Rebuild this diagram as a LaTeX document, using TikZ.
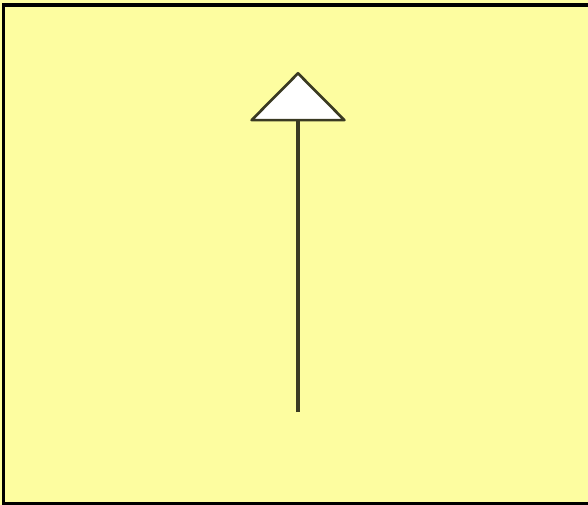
\documentclass[tikz,border=0pt]{standalone}
\usetikzlibrary{arrows.meta}
\definecolor{notebg}{HTML}{FDFDA0}
\definecolor{shaftcol}{HTML}{3A3A22}

\begin{document}
\begin{tikzpicture}[
  x=0.75pt, y=-0.75pt,
  frame/.style={draw=black, line width=2.6pt, fill=notebg},
  inherit/.style={-{Triangle[length=37.5pt, width=74pt, fill=white, line width=2pt, round]}, draw=shaftcol, line width=2.8pt}
]
\useasboundingbox (0,0) rectangle (588,505);
\fill[notebg] (0,0) rectangle (588,505);
\draw[frame] (3.5,5) rectangle (592,504);

\coordinate (tail) at (298,412);
\coordinate (apex) at (298,72);
\draw[inherit] (tail) -- (apex);
\end{tikzpicture}
\end{document}
